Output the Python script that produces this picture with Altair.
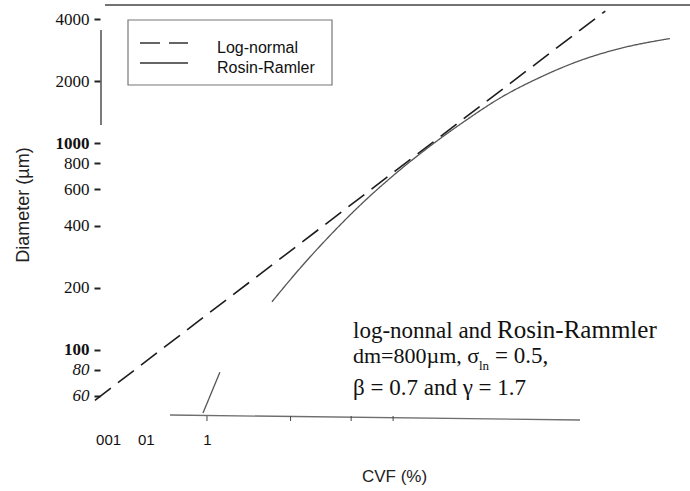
import altair as alt
import pandas as pd
from statistics import NormalDist

# --- data -----------------------------------------------------------------
series_names = ["Log-normal", "Rosin-Ramler"]

# log-normal distribution (straight on the probability / log grid)
lognormal_cvf = [0.0097, 0.5, 34, 80, 99.6]            # CVF, %
lognormal_d = [57, 125, 545, 1280, 4372]                # diameter, µm

# Rosin-Rammler distribution, lower piece
rr_low_cvf = [0.875, 1.52]
rr_low_d = [49.5, 78]

# Rosin-Rammler distribution, main curve
rr_cvf = [6.5, 12.2, 21.5, 33.95, 49.95, 67.8, 81.6, 90.9, 96.7,
          99.03, 99.77, 99.973]
rr_d = [171, 248, 358, 501, 697, 970, 1285, 1656, 2089,
        2518, 2879, 3218]

y_ticks = [60, 80, 100, 200, 400, 600, 800, 1000, 2000, 4000]
x_tick_cvf = [0.01, 0.1, 1]
x_tick_labels = ["001", "01", "1"]
bottom_tick_cvf = [1, 10, 30, 50]

y_title = "Diameter (µm)"
x_title = "CVF (%)"
note_texts = ["log-nonnal and", "Rosin-Rammler", "dm=800µm, σ", "ln", "= 0.5,",
              "β = 0.7 and γ = 1.7"]

# --- table ----------------------------------------------------------------
rows = []
for c, d in zip(lognormal_cvf, lognormal_d):
    rows.append({"series": series_names[0], "part": "ln", "cvf": c, "d": d})
for c, d in zip(rr_low_cvf, rr_low_d):
    rows.append({"series": series_names[1], "part": "rr_low", "cvf": c, "d": d})
for c, d in zip(rr_cvf, rr_d):
    rows.append({"series": series_names[1], "part": "rr", "cvf": c, "d": d})
df = pd.DataFrame(rows)

# normal-probability x axis: positions are standard normal quantiles
nd = NormalDist()
x_tick_z = [nd.inv_cdf(p / 100) for p in x_tick_cvf]
label_expr = "''"
for z, lab in zip(reversed(x_tick_z), reversed(x_tick_labels)):
    label_expr = f"abs(datum.value - ({z:.5f})) < 0.01 ? '{lab}' : ({label_expr})"

xscale = alt.Scale(domain=[-3.726, 3.711], nice=False, zero=False)
yscale = alt.Scale(type="log", domain=[48.4, 4677], nice=False)

xaxis = alt.Axis(
    values=x_tick_z, labelExpr=label_expr, ticks=False, domain=False, grid=False,
    labelFont="Liberation Sans", labelFontSize=15, labelColor="#111",
    labelPadding=17, title=x_title, titleFont="Liberation Sans",
    titleFontSize=17, titleFontWeight="normal", titleColor="#222",
    titleX=299, titleY=53, titleAnchor="middle", titleAlign="center",
)
yaxis = alt.Axis(
    values=y_ticks, format="d", offset=-5, domain=False, grid=False,
    tickSize=6, tickWidth=2, tickColor="#222",
    labelFont="Liberation Serif", labelFontSize=17, labelColor="#111",
    labelPadding=5,
    labelFontStyle={"condition": {"test": "datum.value < 90", "value": "italic"},
                    "value": "normal"},
    labelFontWeight={"condition": {"test": "datum.value == 1000 || datum.value == 100",
                                   "value": "bold"}, "value": "normal"},
)

one = pd.DataFrame({"k": [0]})

lines = alt.Chart(df).transform_calculate(
    z="quantileNormal(datum.cvf / 100)"
).mark_line(clip=False, interpolate="monotone").encode(
    x=alt.X("z:Q", scale=xscale, axis=xaxis),
    y=alt.Y("d:Q", scale=yscale, axis=yaxis, title=None),
    detail="part:N",
    order="cvf:Q",
    strokeDash=alt.StrokeDash("series:N", legend=None,
                              scale=alt.Scale(domain=series_names, range=[[20, 9], [1, 0]])),
    color=alt.Color("series:N", legend=None,
                    scale=alt.Scale(domain=series_names, range=["#1c1c1c", "#555555"])),
    strokeWidth=alt.StrokeWidth("series:N", legend=None,
                                scale=alt.Scale(domain=series_names, range=[1.6, 1.3])),
)

# frame pieces
top_line = alt.Chart(one).mark_rule(color="#444", strokeWidth=1.5).encode(
    x=alt.value(10), x2=alt.value(595), y=alt.value(0))
bottom_line = alt.Chart(one).mark_rule(color="#555", strokeWidth=1.3, opacity=0.85).encode(
    x=alt.value(75), x2=alt.value(485), y=alt.value(410), y2=alt.value(415))
left_spine = alt.Chart(one).mark_rule(color="#333", strokeWidth=1.3).encode(
    x=alt.value(6), y=alt.value(25), y2=alt.value(120))
bottom_ticks = alt.Chart(pd.DataFrame({"cvf": bottom_tick_cvf})).transform_calculate(
    z="quantileNormal(datum.cvf / 100)"
).mark_rule(color="#444", strokeWidth=1).encode(
    x=alt.X("z:Q", scale=xscale), y=alt.value(411), y2=alt.value(416))

# y axis title
ytitle = alt.Chart(one).mark_text(
    angle=270, font="Liberation Sans", fontSize=18, color="#222",
    align="center", baseline="middle", text=y_title,
).encode(x=alt.value(-71), y=alt.value(200))

# legend box
legend_box = alt.Chart(one).mark_rect(
    fill="white", stroke="#777", strokeWidth=1.2).encode(
    x=alt.value(33), x2=alt.value(237), y=alt.value(15), y2=alt.value(80))
legend_layers = [legend_box]
dashes = [[20, 9], [1, 0]]
for i, name in enumerate(series_names):
    yy = 38 + 20 * i
    legend_layers.append(
        alt.Chart(one).mark_rule(color="#333", strokeWidth=1.4, strokeDash=dashes[i]).encode(
            x=alt.value(45), x2=alt.value(93), y=alt.value(yy)))
    legend_layers.append(
        alt.Chart(one).mark_text(font="Liberation Sans", fontSize=16, color="#111",
                                 align="left", baseline="middle", text=name).encode(
            x=alt.value(122), y=alt.value(yy + 5)))

# parameter note
note_font = dict(font="Liberation Serif", color="#111", align="left", baseline="alphabetic")
note_pos = [(258, 333, 23), (402, 333, 25), (258, 358, 22), (384, 365, 13),
            (400, 358, 23), (258, 390, 23)]
note = [
    alt.Chart(one).mark_text(fontSize=fs, text=t, **note_font).encode(
        x=alt.value(px), y=alt.value(py))
    for t, (px, py, fs) in zip(note_texts, note_pos)
]

chart = alt.layer(
    lines, top_line, bottom_line, left_spine, bottom_ticks, ytitle,
    *legend_layers, *note,
).properties(
    width=595, height=410,
    autosize=alt.AutoSizeParams(type="none"),
    padding={"left": 95, "top": 5, "right": 0, "bottom": 76},
    background="white",
).configure_view(strokeWidth=0)

chart.save("out.html", embed_options={"renderer": "svg", "actions": False})
